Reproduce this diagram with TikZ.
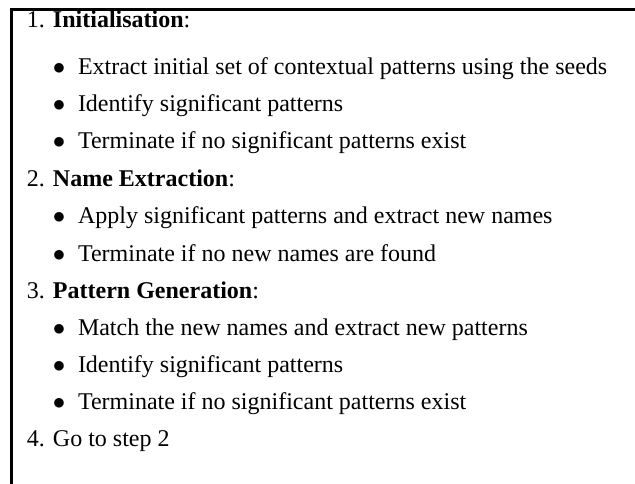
\documentclass[tikz,border=0pt]{standalone}
\usepackage{fontspec}
\setmainfont{Liberation Serif}
\begin{document}
\begin{tikzpicture}[x=1pt,y=-1pt,
  txt/.style={anchor=base west,inner sep=0pt,outer sep=0pt,font=\fontsize{24}{28}\selectfont},
  bul/.style={anchor=base,inner sep=0pt,outer sep=0pt,font=\fontsize{24}{28}\selectfont},
  frame/.style={line width=3.2pt,line cap=rect,line join=miter}]
\useasboundingbox (0,0) rectangle (635,483);
\draw[frame] (11.5,490) -- (11.5,9.8) -- (640,9.8);
% step 1
\node[txt] (s1) at (27,27) {1. \textbf{Initialisation}:};
\node[bul] (b1) at (59,74) {$\bullet$};
\node[txt] (t1) at (78,74) {Extract initial set of contextual patterns using the seeds};
\node[bul] (b2) at (59,111) {$\bullet$};
\node[txt] (t2) at (78,111) {Identify significant patterns};
\node[bul] (b3) at (59,148) {$\bullet$};
\node[txt] (t3) at (78,148) {Terminate if no significant patterns exist};
% step 2
\node[txt] (s2) at (27,186) {2. \textbf{Name Extraction}:};
\node[bul] (b4) at (59,223) {$\bullet$};
\node[txt] (t4) at (78,223) {Apply significant patterns and extract new names};
\node[bul] (b5) at (59,261) {$\bullet$};
\node[txt] (t5) at (78,261) {Terminate if no new names are found};
% step 3
\node[txt] (s3) at (27,298) {3. \textbf{Pattern Generation}:};
\node[bul] (b6) at (59,335) {$\bullet$};
\node[txt] (t6) at (78,335) {Match the new names and extract new patterns};
\node[bul] (b7) at (59,372) {$\bullet$};
\node[txt] (t7) at (78,372) {Identify significant patterns};
\node[bul] (b8) at (59,409) {$\bullet$};
\node[txt] (t8) at (78,409) {Terminate if no significant patterns exist};
% step 4
\node[txt] (s4) at (27,446) {4. Go to step 2};
\end{tikzpicture}
\end{document}
